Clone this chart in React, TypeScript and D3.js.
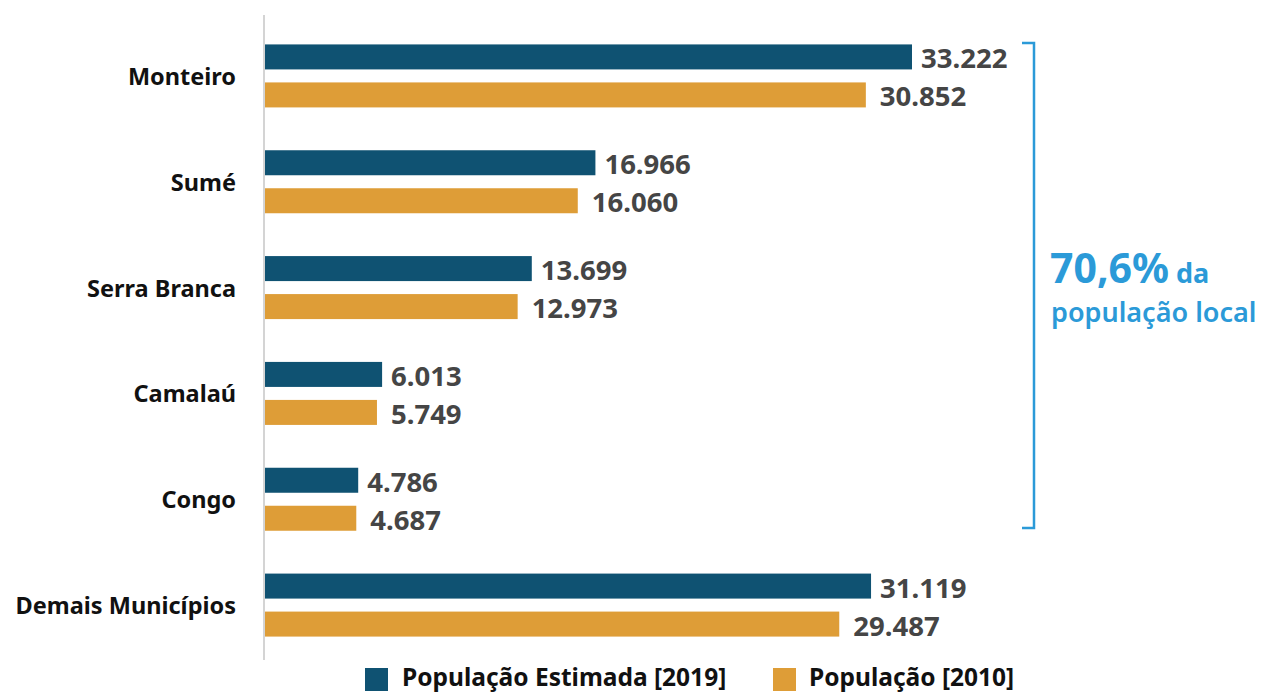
import React from "react";
import * as d3 from "d3";

const categories = ["Monteiro", "Sumé", "Serra Branca", "Camalaú", "Congo", "Demais Municípios"];
const pop2019 = [33222, 16966, 13699, 6013, 4786, 31119];
const pop2010 = [30852, 16060, 12973, 5749, 4687, 29487];
const seriesNames = ["População Estimada [2019]", "População [2010]"];
const colors = ["#0f5272", "#de9d37"];

const W = 1261, H = 693;
const x0 = 265;
const fmt = (v: number) => d3.format(",")(v).replace(/,/g, ".");

export default function App() {
  const x = d3.scaleLinear().domain([0, 33222]).range([x0, 912]);
  const y = d3.scaleBand<string>().domain(categories).range([23, 658]).padding(0);
  const barH = 25;
  const off = 19;
  const font = "'Noto Sans', 'Open Sans', sans-serif";
  return (
    <svg width={W} height={H} style={{ position: "absolute", left: 0, top: 0, background: "#fff" }} fontFamily={font}>
      <line x1={264} x2={264} y1={15} y2={660} stroke="#d4d4d4" strokeWidth={2} />
      {categories.map((c, i) => {
        const cy = (y(c) as number) + y.bandwidth() / 2;
        return (
          <g key={c}>
            <text x={236} y={cy} textAnchor="end" dominantBaseline="central" fontSize={23.5} fontWeight={700} fill="#111">{c}</text>
            <rect x={x0} y={cy - off - barH / 2} width={x(pop2019[i]) - x0} height={barH} fill={colors[0]} />
            <rect x={x0} y={cy + off - barH / 2} width={x(pop2010[i]) - x0} height={barH} fill={colors[1]} />
            <text x={x(pop2019[i]) + 9} y={cy - off + 1} dominantBaseline="central" fontSize={27.5} fontWeight={700} fill="#454545">{fmt(pop2019[i])}</text>
            <text x={x(pop2010[i]) + 14} y={cy + off + 1} dominantBaseline="central" fontSize={27.5} fontWeight={700} fill="#454545">{fmt(pop2010[i])}</text>
          </g>
        );
      })}
      <path d="M1022,43 H1034 V528 H1022" fill="none" stroke="#2b9ad8" strokeWidth={2.5} />
      <text x={1050} y={283} fill="#2b9ad8" fontWeight={700}>
        <tspan fontSize={41}>70,6%</tspan>
        <tspan fontSize={27} dx={7}>da</tspan>
      </text>
      <text x={1051} y={322} fill="#2b9ad8" fontWeight={600} fontSize={27}>população local</text>
      <g>
        <rect x={365} y={668} width={23} height={23} fill={colors[0]} />
        <text x={402} y={686} fontSize={24.5} fontWeight={700} fill="#111">{seriesNames[0]}</text>
        <rect x={773} y={668} width={23} height={23} fill={colors[1]} />
        <text x={809} y={686} fontSize={24.5} fontWeight={700} fill="#111">{seriesNames[1]}</text>
      </g>
    </svg>
  );
}
